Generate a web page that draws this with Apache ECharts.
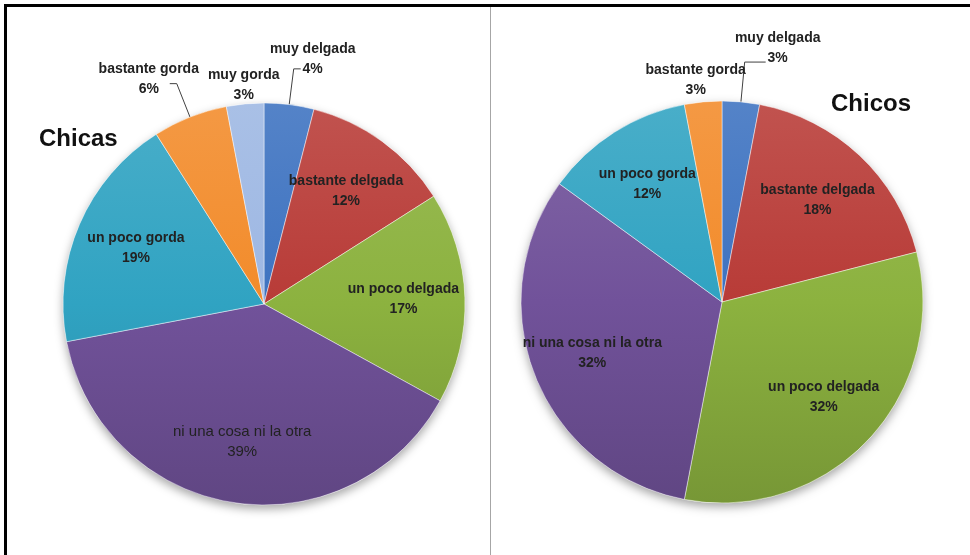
<!DOCTYPE html>
<html>
<head>
<meta charset="utf-8">
<script src="https://cdn.jsdelivr.net/npm/echarts@6/dist/echarts.min.js"></script>
<style>
html, body { margin: 0; padding: 0; background: #fff; overflow: hidden; }
#frame { position: absolute; left: 4px; top: 4px; width: 990px; height: 580px; border-left: 3px solid #000; border-top: 3px solid #000; }
#divider { position: absolute; left: 490px; top: 7px; width: 1px; height: 560px; background: #a6a6a6; }
#chart { position: absolute; left: 0; top: 0; width: 970px; height: 555px; }
</style>
</head>
<body>
<div id="frame"></div>
<div id="divider"></div>
<div id="chart"></div>
<script>
// categorias (en el orden de las agujas del reloj desde arriba)
const categories = ['muy delgada', 'bastante delgada', 'un poco delgada', 'ni una cosa ni la otra', 'un poco gorda', 'bastante gorda', 'muy gorda'];
const chicasValues = [4, 12, 17, 39, 19, 6, 3];
const chicosValues = [3, 18, 32, 32, 12, 3, 0];

const colors = ['#3D72C0', '#B83B37', '#8CB23F', '#71529A', '#30A3C2', '#F28B2A', '#9DB7E3'];
const R = 201;

// estilo de las etiquetas exteriores (porciones pequeñas)
const chicasOutside = {
  'muy delgada': { line: true, len: 36, len2: 7, dx: 7, dy: -10 },
  'bastante gorda': { line: true, len: 36, len2: 7, dx: -16, dy: -5 },
  'muy gorda': { line: false, dx: 4, dy: -15 }
};
const chicosOutside = {
  'muy delgada': { line: true, len: 40, len2: 21, dx: 7, dy: -14 },
  'bastante gorda': { line: false, dx: -2, dy: -18 }
};

function mix(hex, target, t) {
  const a = parseInt(hex.slice(1), 16);
  const r = (a >> 16) & 255, g = (a >> 8) & 255, b = a & 255;
  const f = (c) => Math.round(c + (target - c) * t);
  return 'rgb(' + f(r) + ',' + f(g) + ',' + f(b) + ')';
}

function shade(color, cy) {
  return new echarts.graphic.LinearGradient(0, cy - R, 0, cy + R, [
    { offset: 0, color: mix(color, 255, 0.12) },
    { offset: 0.5, color: color },
    { offset: 1, color: mix(color, 0, 0.15) }
  ], true);
}

const labelFont = {
  fontFamily: 'Liberation Sans',
  fontWeight: 'bold',
  fontSize: 14,
  lineHeight: 20,
  color: '#222',
  formatter: '{b}\n{c}%'
};

function buildPie(values, center, outside, normalName) {
  const main = [];
  const overlay = [];
  const offsets = [];
  let total = 0;
  categories.forEach((name, i) => {
    const v = values[i];
    if (!v) return;
    total += v;
    const o = outside[name];
    main.push({
      name: name,
      value: v,
      itemStyle: { color: shade(colors[i], center[1]) },
      label: { show: !!o },
      labelLine: o && o.line ? { show: true, length: o.len, length2: o.len2 } : { show: false, length: 4, length2: 0 }
    });
    offsets.push(o || { dx: 0, dy: 0 });
    overlay.push({
      name: name,
      value: v,
      label: name === normalName
        ? { show: !o, fontWeight: 'normal', fontSize: 15 }
        : { show: !o }
    });
  });
  return [
    {
      // sombra bajo el circulo
      type: 'pie',
      center: center,
      radius: R,
      silent: true,
      label: { show: false },
      itemStyle: { color: '#fff', shadowBlur: 10, shadowOffsetY: 4, shadowColor: 'rgba(0,0,0,0.35)' },
      data: [{ name: 'total', value: total }]
    },
    {
      type: 'pie',
      center: center,
      radius: R,
      startAngle: 90,
      clockwise: true,
      avoidLabelOverlap: false,
      silent: true,
      itemStyle: { borderColor: 'rgba(255,255,255,0.45)', borderWidth: 1 },
      label: Object.assign({ position: 'outside' }, labelFont),
      labelLine: { lineStyle: { color: '#404040', width: 1 }, smooth: false },
      labelLayout: function (p) {
        const o = offsets[p.dataIndex];
        return { align: 'center', verticalAlign: 'middle', dx: o.dx, dy: o.dy };
      },
      data: main
    },
    {
      type: 'pie',
      center: center,
      radius: [72, R],
      startAngle: 90,
      clockwise: true,
      silent: true,
      itemStyle: { color: 'rgba(0,0,0,0)' },
      label: Object.assign({ position: 'inside' }, labelFont),
      labelLine: { show: false },
      data: overlay
    }
  ];
}

const chart = echarts.init(document.getElementById('chart'));
chart.setOption({
  animation: false,
  backgroundColor: 'transparent',
  title: [
    { text: 'Chicas', left: 34, top: 122, textStyle: { fontFamily: 'Liberation Sans', fontWeight: 'bold', fontSize: 24, color: '#111' } },
    { text: 'Chicos', left: 826, top: 87, textStyle: { fontFamily: 'Liberation Sans', fontWeight: 'bold', fontSize: 24, color: '#111' } }
  ],
  series: [].concat(
    buildPie(chicasValues, [264, 304], chicasOutside, 'ni una cosa ni la otra'),
    buildPie(chicosValues, [722, 302], chicosOutside, '')
  )
});
</script>
</body>
</html>
